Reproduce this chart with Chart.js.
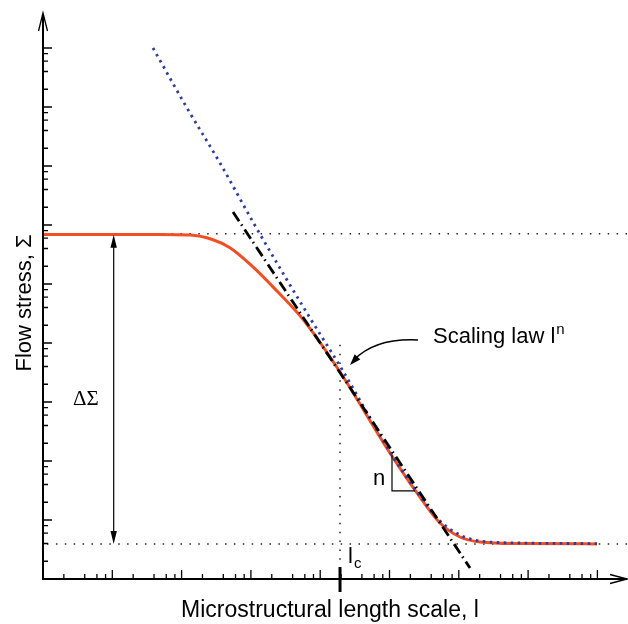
<!DOCTYPE html>
<html>
<head>
<meta charset="utf-8">
<script src="https://cdn.jsdelivr.net/npm/chart.js@4.4.1/dist/chart.umd.min.js"></script>
<style>
  body { margin: 0; background: #fff; }
  canvas { display: block; }
</style>
</head>
<body>
<canvas id="stressChart" width="628" height="624"></canvas>
<script>
// All values are decades (log10) of length scale l and flow stress Sigma

// Flow stress curve (orange)
const curveLogL = [0, 1.0, 1.6, 2.121, 2.453, 2.698, 3.03, 3.377, 3.752, 4.286, 5.007, 5.397, 5.729, 6.017, 6.306, 6.883, 7.994];
const curveLogS = [5.84, 5.84, 5.838, 5.83, 5.75, 5.615, 5.29, 4.88, 4.40, 3.508, 2.136, 1.458, 0.949, 0.712, 0.627, 0.6, 0.595];

// Scaling law plus lower plateau (blue dotted)
const boundLogL = [1.587, 2.078, 2.554, 3.03, 3.521, 3.853, 4.329, 5.007, 5.397, 5.729, 6.017, 6.306, 6.883, 7.994];
const boundLogS = [9.0, 7.983, 7.051, 6.051, 5.068, 4.424, 3.525, 2.153, 1.475, 0.983, 0.746, 0.644, 0.61, 0.6];

// Tangent scaling law l^n (black dash-dot)
const lawLogL = [2.742, 6.162];
const lawLogS = [6.22, 0.186];

// Plateaus and critical length
const sigmaHigh = 5.85;
const sigmaLow = 0.595;
const logLc = 4.286;

// Axis ticks (no labels): major decades and minor multipliers
const xMajorDecades = [1, 2, 3, 4, 5, 6, 7, 8];
const yMajorDecades = [1, 2, 3, 4, 5, 6, 7, 8, 9];
const minorSteps = [2, 4, 6, 8];

const toPoints = (ls, ss) => ls.map((l, i) => ({ x: Math.pow(10, l), y: Math.pow(10, ss[i]) }));

const px = (chart, v) => chart.scales.x.getPixelForValue(Math.pow(10, v));
const py = (chart, v) => chart.scales.y.getPixelForValue(Math.pow(10, v));

const FONT = '"Liberation Sans", Arial, Helvetica, sans-serif';

// Dotted guide lines under the curves
const guidesPlugin = {
  id: "guides",
  beforeDatasetsDraw(chart) {
    const { ctx, chartArea } = chart;
    ctx.save();
    ctx.strokeStyle = "#222";
    ctx.lineWidth = 1.5;
    ctx.setLineDash([1.5, 7.4]);
    [sigmaHigh, sigmaLow].forEach((s) => {
      const y = py(chart, s);
      ctx.beginPath();
      ctx.moveTo(chartArea.left + 4, y);
      ctx.lineTo(chartArea.right, y);
      ctx.stroke();
    });
    const xc = px(chart, logLc);
    ctx.beginPath();
    ctx.moveTo(xc, py(chart, 3.97));
    ctx.lineTo(xc, chartArea.bottom);
    ctx.stroke();
    ctx.restore();
  },
};

// Axes, ticks, arrows and annotations
const axesPlugin = {
  id: "axesAndNotes",
  afterDatasetsDraw(chart) {
    const { ctx, chartArea } = chart;
    const { left, right, top, bottom } = chartArea;
    ctx.save();
    ctx.strokeStyle = "#000";
    ctx.fillStyle = "#000";
    ctx.setLineDash([]);

    // axis lines
    ctx.lineWidth = 2;
    ctx.beginPath();
    ctx.moveTo(left, bottom + 1);
    ctx.lineTo(left, top - 1);
    ctx.moveTo(left - 1, bottom);
    ctx.lineTo(right, bottom);
    ctx.stroke();

    // open arrow heads
    ctx.lineWidth = 1.3;
    ctx.beginPath();
    ctx.moveTo(left - 4.5, top + 16);
    ctx.lineTo(left, top - 2);
    ctx.lineTo(left + 4.5, top + 16);
    ctx.moveTo(right - 17, bottom - 4.5);
    ctx.lineTo(right, bottom);
    ctx.lineTo(right - 17, bottom + 4.5);
    ctx.stroke();

    // ticks pointing inward
    ctx.lineWidth = 1.3;
    ctx.beginPath();
    xMajorDecades.forEach((d) => {
      const x = px(chart, d);
      ctx.moveTo(x, bottom);
      ctx.lineTo(x, bottom - 9);
      minorSteps.forEach((m) => {
        const xm = px(chart, d - 1 + Math.log10(m));
        ctx.moveTo(xm, bottom);
        ctx.lineTo(xm, bottom - 5);
      });
    });
    yMajorDecades.forEach((d) => {
      const y = py(chart, d);
      ctx.moveTo(left, y);
      ctx.lineTo(left + 9, y);
      minorSteps.forEach((m) => {
        const ym = py(chart, d - 1 + Math.log10(m));
        ctx.moveTo(left, ym);
        ctx.lineTo(left + 5, ym);
      });
    });
    ctx.stroke();

    // thick tick at l_c
    const xc = px(chart, logLc);
    ctx.lineWidth = 3;
    ctx.beginPath();
    ctx.moveTo(xc, bottom - 12);
    ctx.lineTo(xc, bottom + 13);
    ctx.stroke();

    // Delta Sigma double arrow
    const xa = px(chart, 1.02);
    const yHi = py(chart, sigmaHigh) + 1;
    const yLo = py(chart, sigmaLow);
    ctx.lineWidth = 1.2;
    ctx.beginPath();
    ctx.moveTo(xa, yHi + 8);
    ctx.lineTo(xa, yLo - 8);
    ctx.stroke();
    ctx.beginPath();
    ctx.moveTo(xa, yHi);
    ctx.lineTo(xa - 3.2, yHi + 13);
    ctx.lineTo(xa + 3.2, yHi + 13);
    ctx.closePath();
    ctx.moveTo(xa, yLo);
    ctx.lineTo(xa - 3.2, yLo - 13);
    ctx.lineTo(xa + 3.2, yLo - 13);
    ctx.closePath();
    ctx.fill();

    // slope triangle
    const xt = px(chart, 5.036);
    const xt2 = px(chart, 5.368);
    ctx.lineWidth = 1.2;
    ctx.beginPath();
    ctx.moveTo(xt, py(chart, 2.102));
    ctx.lineTo(xt, py(chart, 1.492));
    ctx.lineTo(xt2, py(chart, 1.492));
    ctx.stroke();

    // curved arrow to the scaling-law point
    const sx = px(chart, 5.411), sy = py(chart, 4.051);
    const cx = px(chart, 4.791), cy = py(chart, 4.085);
    const ex = px(chart, 4.43), ey = py(chart, 3.627);
    ctx.lineWidth = 1.4;
    ctx.beginPath();
    ctx.moveTo(sx, sy);
    ctx.quadraticCurveTo(cx, cy, ex + 4, ey - 5);
    ctx.stroke();
    const ang = Math.atan2(ey - cy, ex - cx);
    const hl = 11, hw = 3.8;
    ctx.beginPath();
    ctx.moveTo(ex, ey);
    ctx.lineTo(ex - hl * Math.cos(ang) - hw * Math.sin(ang), ey - hl * Math.sin(ang) + hw * Math.cos(ang));
    ctx.lineTo(ex - hl * Math.cos(ang) + hw * Math.sin(ang), ey - hl * Math.sin(ang) - hw * Math.cos(ang));
    ctx.closePath();
    ctx.fill();

    // texts
    ctx.textBaseline = "alphabetic";
    ctx.textAlign = "left";
    ctx.font = "22px " + FONT;
    const tx = px(chart, 5.628), ty = py(chart, 4.0);
    ctx.fillText("Scaling law l", tx, ty);
    const w = ctx.measureText("Scaling law l").width;
    ctx.font = "15px " + FONT;
    ctx.fillText("n", tx + w + 1, ty - 9);

    ctx.font = "22px " + FONT;
    ctx.textAlign = "center";
    ctx.textBaseline = "middle";
    ctx.fillText("n", px(chart, 4.849), py(chart, 1.695));

    ctx.textAlign = "left";
    ctx.textBaseline = "alphabetic";
    const lx = px(chart, 4.401), ly = py(chart, 0.271);
    ctx.fillText("l", lx, ly);
    const lw = ctx.measureText("l").width;
    ctx.font = "15px " + FONT;
    ctx.fillText("c", lx + lw + 1, ly + 5);

    ctx.font = '21px "Liberation Serif", "Times New Roman", serif';
    ctx.textAlign = "center";
    ctx.textBaseline = "middle";
    ctx.fillText("\u0394\u03A3", px(chart, 0.62), py(chart, 3.05));

    // axis titles
    ctx.font = "23px " + FONT;
    ctx.textAlign = "center";
    ctx.textBaseline = "alphabetic";
    ctx.fillText("Microstructural length scale, l", 330, 617);

    ctx.font = "22px " + FONT;
    ctx.translate(31, 303);
    ctx.rotate(-Math.PI / 2);
    ctx.fillText("Flow stress, \u03A3", 0, 0);
    ctx.restore();
  },
};

const ctx = document.getElementById("stressChart").getContext("2d");
new Chart(ctx, {
  type: "line",
  data: {
    datasets: [
      {
        label: "Scaling law",
        data: toPoints(lawLogL, lawLogS),
        borderColor: "#000",
        borderWidth: 2.8,
        borderDash: [11, 4, 1.5, 4.5],
        pointRadius: 0,
        order: 0,
      },
      {
        label: "Bound",
        data: toPoints(boundLogL, boundLogS),
        borderColor: "#2e3c9e",
        borderWidth: 2.8,
        borderDash: [2.5, 4.5],
        pointRadius: 0,
        cubicInterpolationMode: "monotone",
        order: 1,
      },
      {
        label: "Flow stress",
        data: toPoints(curveLogL, curveLogS),
        borderColor: "#f04f23",
        borderWidth: 3,
        pointRadius: 0,
        cubicInterpolationMode: "monotone",
        order: 2,
      },
    ],
  },
  options: {
    responsive: false,
    devicePixelRatio: 1,
    animation: false,
    layout: { padding: { left: 43, top: 15, right: 1, bottom: 45 } },
    plugins: { legend: { display: false }, tooltip: { enabled: false } },
    scales: {
      x: { type: "logarithmic", display: false, min: 1, max: Math.pow(10, 584 / 69.3) },
      y: { type: "logarithmic", display: false, min: 1, max: Math.pow(10, 564 / 59) },
    },
  },
  plugins: [guidesPlugin, axesPlugin],
});
</script>
</body>
</html>
